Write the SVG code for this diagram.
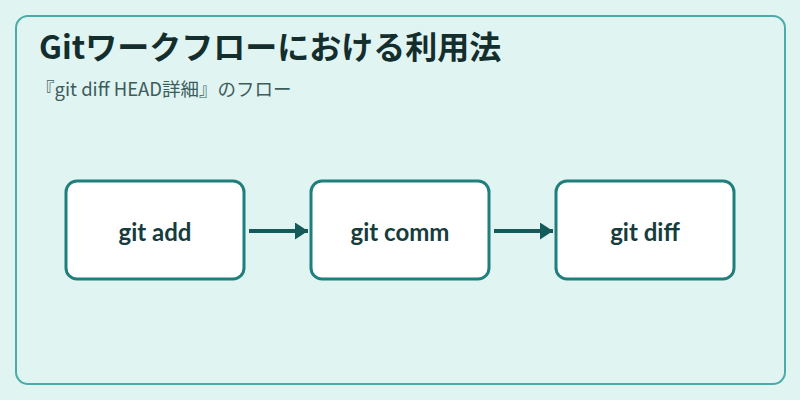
<svg xmlns="http://www.w3.org/2000/svg" width="800" height="400" viewBox="0 0 800 400">
<style>
.frame{fill:#e0f4f2;stroke:#4aaba8;stroke-width:2}
.node rect{fill:#ffffff;stroke:#1f7f7c;stroke-width:3}
.node text{font-family:Lato,"Noto Sans",sans-serif;font-weight:700;font-size:24px;fill:#163c3c;text-anchor:middle;dominant-baseline:central}
.title{font-family:"Noto Sans CJK JP","Noto Sans",sans-serif;font-weight:700;font-size:32px;fill:#142e2e}
.sub{font-family:"Noto Sans CJK JP",sans-serif;font-size:18.5px;fill:#3d5c5c}
.conn line{stroke:#145a5a;stroke-width:4}
</style>
<defs>
<marker id="ah" markerWidth="14" markerHeight="18" refX="13" refY="8.5" orient="auto" markerUnits="userSpaceOnUse">
<path d="M0,0 L13,8.5 L0,17 Z" fill="#145a5a"/>
</marker>
</defs>
<rect width="800" height="400" fill="#e0f4f2"/>
<rect class="frame" x="16" y="16" width="769" height="368" rx="12"/>
<text class="title" x="39" y="59">Gitワークフローにおける利用法</text>
<text class="sub" x="36" y="96">『git diff HEAD詳細』のフロー</text>
<g id="connectors" class="conn">
<line x1="249" y1="231" x2="308" y2="231" marker-end="url(#ah)"/>
<line x1="494" y1="231" x2="553" y2="231" marker-end="url(#ah)"/>
</g>
<g id="node-add" class="node">
<rect x="66" y="181" width="178" height="98" rx="11"/>
<text x="155" y="231">git add</text>
</g>
<g id="node-comm" class="node">
<rect x="311" y="181" width="178" height="98" rx="11"/>
<text x="400" y="231">git comm</text>
</g>
<g id="node-diff" class="node">
<rect x="556" y="181" width="178" height="98" rx="11"/>
<text x="645" y="231">git diff</text>
</g>
</svg>
